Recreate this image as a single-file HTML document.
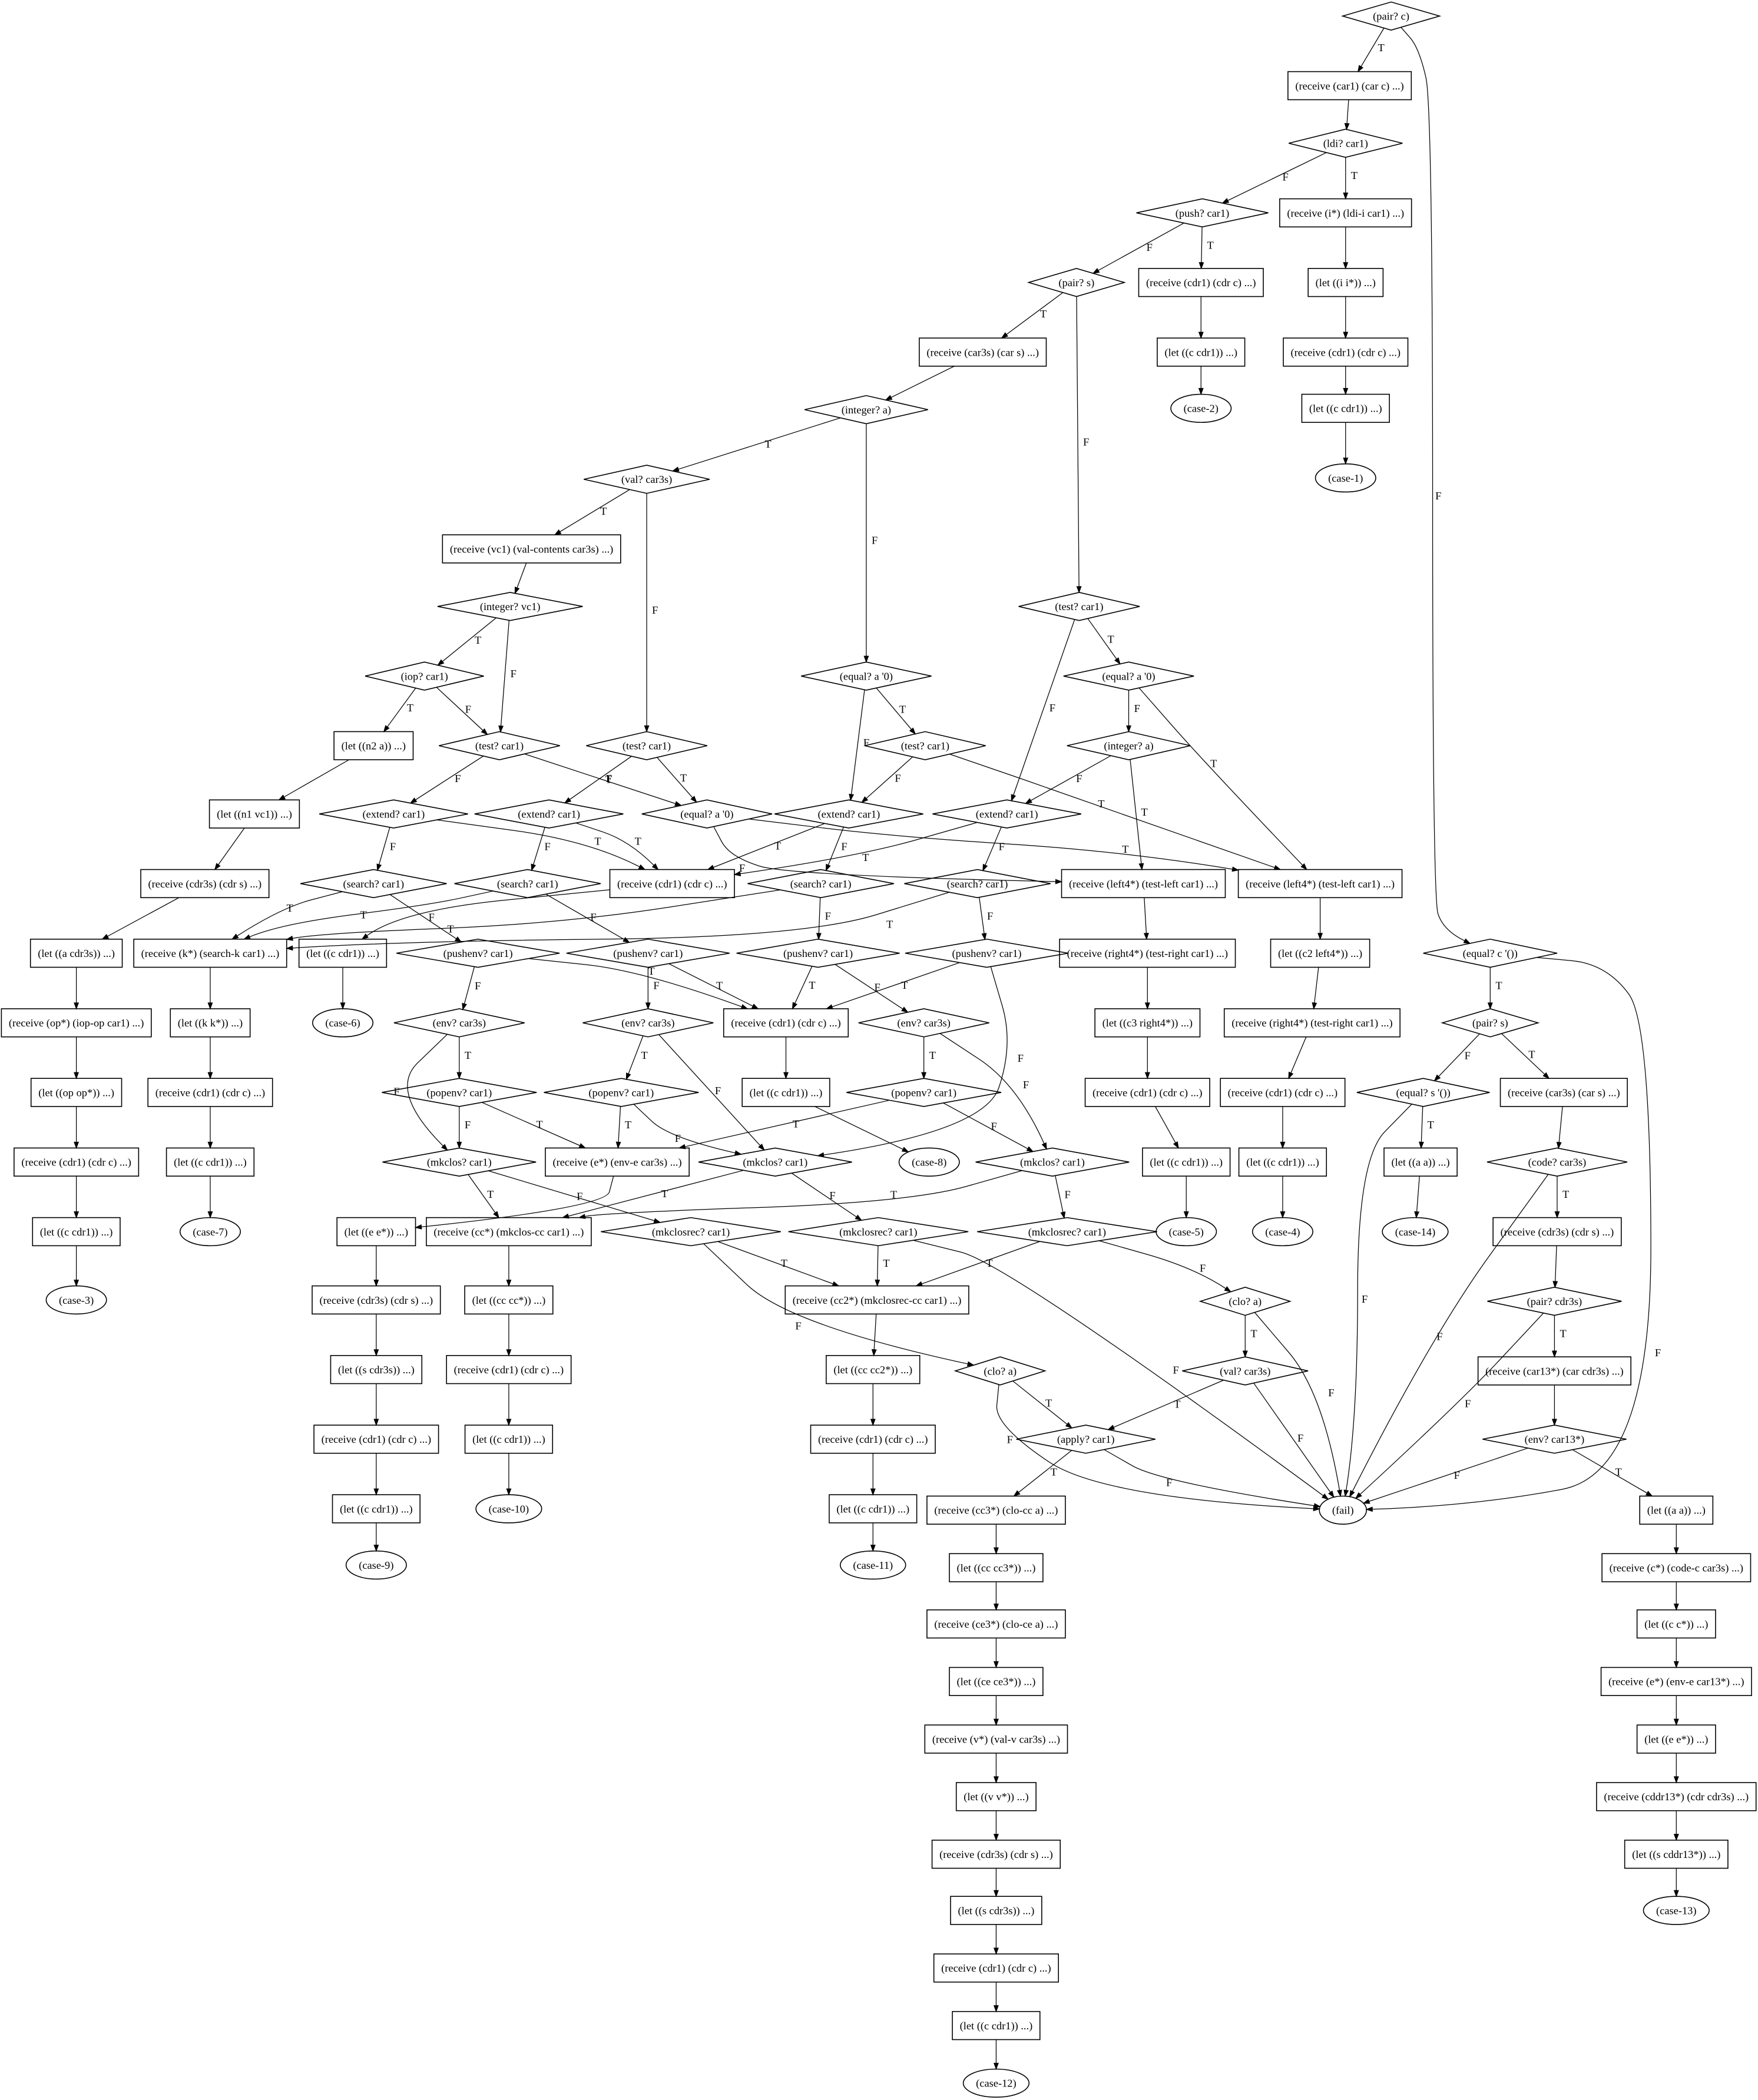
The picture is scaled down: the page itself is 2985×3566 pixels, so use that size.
<!DOCTYPE html>
<html><head><meta charset="utf-8">
<style>
html,body{margin:0;padding:0;background:#fff;}
svg{display:block;}
text{font-family:"Liberation Serif",serif;font-size:8.1px;fill:#000;}
</style></head>
<body>
<svg id="g" xmlns="http://www.w3.org/2000/svg" width="2985" height="3566" viewBox="0 0 1313 1568.6">
<rect x="0" y="0" width="1313" height="1568.6" fill="#fff"/>
<g id="edges"></g><g id="nodes"></g>
</svg>
<script>
var N={
1:['d',1039,12,'(pair? c)'],
2:['b',1008,64,'(receive (car1) (car c) ...)'],
3:['d',1005,107,'(ldi? car1)'],
4:['d',898,159,'(push? car1)'],
5:['b',1005,159,'(receive (i*) (ldi-i car1) ...)'],
6:['d',804,211,'(pair? s)'],
7:['b',897,211,'(receive (cdr1) (cdr c) ...)'],
8:['b',1005,211,'(let ((i i*)) ...)'],
9:['b',897,263,'(let ((c cdr1)) ...)'],
10:['b',1005,263,'(receive (cdr1) (cdr c) ...)'],
11:['e',897,305,'(case-2)'],
12:['b',1005,305,'(let ((c cdr1)) ...)'],
13:['e',1005,357,'(case-1)'],
14:['b',734,263,'(receive (car3s) (car s) ...)'],
15:['d',647,306,'(integer? a)'],
16:['d',483,358,'(val? car3s)'],
17:['b',397,410,'(receive (vc1) (val-contents car3s) ...)'],
18:['d',381,453,'(integer? vc1)'],
19:['d',806,453,'(test? car1)'],
20:['d',317,505,'(iop? car1)'],
21:['d',647,505,'(equal? a \'0)'],
22:['d',843,505,'(equal? a \'0)'],
23:['b',279,557,'(let ((n2 a)) ...)'],
24:['d',373,557,'(test? car1)'],
25:['d',483,557,'(test? car1)'],
26:['d',691,557,'(test? car1)'],
27:['d',843,557,'(integer? a)'],
28:['b',190,608,'(let ((n1 vc1)) ...)'],
29:['d',294,608,'(extend? car1)'],
30:['d',410,608,'(extend? car1)'],
31:['d',528,608,'(equal? a \'0)'],
32:['d',634,608,'(extend? car1)'],
33:['d',752,608,'(extend? car1)'],
34:['b',153,660,'(receive (cdr3s) (cdr s) ...)'],
35:['d',279,660,'(search? car1)'],
36:['d',394,660,'(search? car1)'],
37:['b',502,660,'(receive (cdr1) (cdr c) ...)'],
38:['d',613,660,'(search? car1)'],
39:['d',730,660,'(search? car1)'],
40:['b',854,660,'(receive (left4*) (test-left car1) ...)'],
41:['b',986,660,'(receive (left4*) (test-left car1) ...)'],
42:['b',57,712,'(let ((a cdr3s)) ...)'],
43:['b',157,712,'(receive (k*) (search-k car1) ...)'],
44:['b',256,712,'(let ((c cdr1)) ...)'],
45:['d',357,712,'(pushenv? car1)'],
46:['d',484,712,'(pushenv? car1)'],
47:['d',611,712,'(pushenv? car1)'],
48:['d',737,712,'(pushenv? car1)'],
49:['b',857,712,'(receive (right4*) (test-right car1) ...)'],
50:['b',986,712,'(let ((c2 left4*)) ...)'],
51:['d',1113,712,'(equal? c \'())'],
52:['b',57,764,'(receive (op*) (iop-op car1) ...)'],
53:['b',157,764,'(let ((k k*)) ...)'],
54:['e',256,764,'(case-6)'],
55:['d',343,764,'(env? car3s)'],
56:['d',484,764,'(env? car3s)'],
57:['b',587,764,'(receive (cdr1) (cdr c) ...)'],
58:['d',690,764,'(env? car3s)'],
59:['b',857,764,'(let ((c3 right4*)) ...)'],
60:['b',980,764,'(receive (right4*) (test-right car1) ...)'],
61:['d',1113,764,'(pair? s)'],
62:['b',57,816,'(let ((op op*)) ...)'],
63:['b',157,816,'(receive (cdr1) (cdr c) ...)'],
64:['d',343,816,'(popenv? car1)'],
65:['d',464,816,'(popenv? car1)'],
66:['b',587,816,'(let ((c cdr1)) ...)'],
67:['d',690,816,'(popenv? car1)'],
68:['b',857,816,'(receive (cdr1) (cdr c) ...)'],
69:['b',958,816,'(receive (cdr1) (cdr c) ...)'],
70:['d',1063,816,'(equal? s \'())'],
71:['b',1168,816,'(receive (car3s) (car s) ...)'],
72:['b',57,868,'(receive (cdr1) (cdr c) ...)'],
73:['b',157,868,'(let ((c cdr1)) ...)'],
74:['d',343,868,'(mkclos? car1)'],
75:['b',461,868,'(receive (e*) (env-e car3s) ...)'],
76:['d',579,868,'(mkclos? car1)'],
77:['e',694,868,'(case-8)'],
78:['d',786,868,'(mkclos? car1)'],
79:['b',886,868,'(let ((c cdr1)) ...)'],
80:['b',958,868,'(let ((c cdr1)) ...)'],
81:['b',1061,868,'(let ((a a)) ...)'],
82:['d',1163,868,'(code? car3s)'],
83:['b',57,920,'(let ((c cdr1)) ...)'],
84:['e',157,920,'(case-7)'],
85:['b',281,920,'(let ((e e*)) ...)'],
86:['b',380,920,'(receive (cc*) (mkclos-cc car1) ...)'],
87:['d',516,920,'(mkclosrec? car1)'],
88:['d',656,920,'(mkclosrec? car1)'],
89:['d',797,920,'(mkclosrec? car1)'],
90:['e',886,920,'(case-5)'],
91:['e',958,920,'(case-4)'],
92:['e',1057,920,'(case-14)'],
93:['b',1163,920,'(receive (cdr3s) (cdr s) ...)'],
94:['e',57,971,'(case-3)'],
95:['b',281,971,'(receive (cdr3s) (cdr s) ...)'],
96:['b',380,971,'(let ((cc cc*)) ...)'],
97:['b',655,971,'(receive (cc2*) (mkclosrec-cc car1) ...)'],
98:['d',930,972,'(clo? a)'],
99:['d',1161,972,'(pair? cdr3s)'],
100:['b',281,1023,'(let ((s cdr3s)) ...)'],
101:['b',380,1023,'(receive (cdr1) (cdr c) ...)'],
102:['b',652,1023,'(let ((cc cc2*)) ...)'],
103:['d',747,1024,'(clo? a)'],
104:['d',930,1024,'(val? car3s)'],
105:['b',1161,1024,'(receive (car13*) (car cdr3s) ...)'],
106:['b',281,1075,'(receive (cdr1) (cdr c) ...)'],
107:['b',380,1075,'(let ((c cdr1)) ...)'],
108:['b',652,1075,'(receive (cdr1) (cdr c) ...)'],
109:['d',811,1075,'(apply? car1)'],
110:['d',1161,1075,'(env? car13*)'],
111:['b',281,1127,'(let ((c cdr1)) ...)'],
112:['e',380,1127,'(case-10)'],
113:['b',652,1127,'(let ((c cdr1)) ...)'],
114:['e',1003,1128,'(fail)'],
115:['b',744,1128,'(receive (cc3*) (clo-cc a) ...)'],
116:['b',1252,1128,'(let ((a a)) ...)'],
117:['e',281,1169,'(case-9)'],
118:['e',652,1169,'(case-11)'],
119:['b',744,1171,'(let ((cc cc3*)) ...)'],
120:['b',1252,1171,'(receive (c*) (code-c car3s) ...)'],
121:['b',744,1213,'(receive (ce3*) (clo-ce a) ...)'],
122:['b',1252,1213,'(let ((c c*)) ...)'],
123:['b',744,1256,'(let ((ce ce3*)) ...)'],
124:['b',1252,1256,'(receive (e*) (env-e car13*) ...)'],
125:['b',744,1299,'(receive (v*) (val-v car3s) ...)'],
126:['b',1252,1299,'(let ((e e*)) ...)'],
127:['b',744,1342,'(let ((v v*)) ...)'],
128:['b',1252,1342,'(receive (cddr13*) (cdr cdr3s) ...)'],
129:['b',744,1385,'(receive (cdr3s) (cdr s) ...)'],
130:['b',1252,1385,'(let ((s cddr13*)) ...)'],
131:['b',744,1427,'(let ((s cdr3s)) ...)'],
132:['e',1252,1427,'(case-13)'],
133:['b',744,1470,'(receive (cdr1) (cdr c) ...)'],
134:['b',744,1513,'(let ((c cdr1)) ...)'],
135:['e',744,1556,'(case-12)']
};
// edges: [from,to,label,via,labelpos]
var E=[
[1,2,'T'],[1,51,'F',[[1060,36],[1070,80],[1070,670],[1078,695]],[1072,370]],
[2,3],[3,4,'F'],[3,5,'T'],[4,6,'F'],[4,7,'T'],
[5,8],[8,10],[10,12],[12,13],[7,9],[9,11],
[6,14,'T'],[6,19,'F'],[14,15],
[15,16,'T'],[15,21,'F'],[16,17,'T'],[16,25,'F'],[17,18],
[18,20,'T'],[18,24,'F'],[20,23,'T'],[20,24,'F'],
[23,28],[28,34],[34,42],[42,52],[52,62],[62,72],[72,83],[83,94],
[24,29,'F'],[24,31,'T'],[25,30,'F'],[25,31,'T'],
[19,22,'T'],[19,33,'F'],[21,26,'T'],[21,32,'F'],
[22,27,'F'],[22,41,'T',[[900,570]]],
[26,32,'F'],[26,41,'T',[[816,600]]],
[27,33,'F'],[27,40,'T'],
[29,35,'F'],[29,37,'T',[[440,628]]],
[30,36,'F'],[30,37,'T',[[470,628]]],
[31,40,'F',[[545,640],[590,654]],[552,648]],[31,41,'T',[[669,625],[840,636]],[838,634]],
[32,37,'T'],[32,38,'F'],
[33,37,'T',[[640,640]]],[33,39,'F'],
[35,43,'T',[[210,678]]],[36,43,'T',[[320,676],[210,690]]],
[38,43,'T',[[420,690],[240,697]]],[39,43,'T',[[600,700],[300,703]],[662,690]],
[35,45,'F'],[36,46,'F'],[38,47,'F'],[39,48,'F'],
[37,44,null,[[300,680]]],[44,54],
[40,49],[49,59],[59,68],[68,79],[79,90],
[41,50],[50,60],[60,69],[69,80],[80,91],
[43,53],[53,63],[63,73],[73,84],
[45,55,'F'],[45,57,'T',[[480,725]]],[46,56,'F'],[46,57,'T'],
[47,57,'T'],[47,58,'F'],[48,57,'T'],[48,76,'F',[[757,780],[735,845]],[760,790]],
[55,64,'T'],[55,74,'F',[[290,815]]],[56,65,'T'],[56,76,'F'],
[57,66],[66,77],[58,67,'T'],[58,78,'F',[[760,810]]],
[64,74,'F'],[64,75,'T'],[65,75,'T'],[65,76,'F',[[500,850]]],
[67,75,'T'],[67,78,'F'],
[74,86,'T'],[74,87,'F'],[76,86,'T'],[76,88,'F'],
[78,86,'T',[[680,898],[450,906]],[665,892]],[78,89,'F'],
[75,85,null,[[452,902]]],
[85,95],[95,100],[100,106],[106,111],[111,117],
[86,96],[96,101],[101,107],[107,112],
[87,97,'T'],[87,103,'F',[[590,990]]],
[88,97,'T'],[88,114,'F',[[753,944]],[876,1023]],
[89,97,'T'],[89,98,'F',[[892,947]]],
[97,102],[102,108],[108,113],[113,118],
[98,104,'T'],[98,114,'F',[[988,1040]]],
[104,109,'T'],[104,114,'F'],
[103,109,'T'],[103,114,'F',[[743,1065],[824,1119]],[752,1075]],
[109,115,'T'],[109,114,'F',[[867,1107]]],
[115,119],[119,121],[121,123],[123,125],[125,127],[127,129],[129,131],[131,133],[133,134],[134,135],
[51,61,'T'],[51,114,'F',[[1200,720],[1233,765],[1233,1100],[1100,1125]],[1236,1010]],
[61,70,'F'],[61,71,'T'],
[70,81,'T'],[70,114,'F',[[1014,866],[1014,1060]],[1017,970]],
[81,92],[71,82],
[82,93,'T'],[82,114,'F',[[1069,998]]],
[93,99],[99,105,'T'],[99,114,'F',[[1090,1048]]],
[105,110],[110,114,'F'],[110,116,'T'],
[116,120],[120,122],[122,124],[124,126],[126,128],[128,130],[130,132]
];
var NS='http://www.w3.org/2000/svg';
var gn=document.getElementById('nodes'),ge=document.getElementById('edges');
function el(t,a,p){var e=document.createElementNS(NS,t);for(var k in a)e.setAttribute(k,a[k]);p.appendChild(e);return e;}
var H=21,G={};
for(var id in N){
 var n=N[id],t=el('text',{x:n[1],y:n[2]+2.8,'text-anchor':'middle'},gn);t.textContent=n[3];
 var L=t.getComputedTextLength(),w,h=H;
 if(n[0]=='b'){w=L+11;el('rect',{x:n[1]-w/2,y:n[2]-h/2,width:w,height:h,fill:'none',stroke:'#000','stroke-width':0.7},gn);}
 else if(n[0]=='d'){w=2*L+18;el('polygon',{points:[n[1]-w/2,n[2],n[1],n[2]-h/2,n[1]+w/2,n[2],n[1],n[2]+h/2].join(' '),fill:'none',stroke:'#000','stroke-width':0.7},gn);}
 else {w=L+19;el('ellipse',{cx:n[1],cy:n[2],rx:w/2,ry:h/2,fill:'none',stroke:'#000','stroke-width':0.7},gn);}
 G[id]={t:n[0],x:n[1],y:n[2],hw:w/2,hh:h/2};
}
function clip(n,px,py){var dx=px-n.x,dy=py-n.y,t;
 if(n.t=='b')t=Math.min(Math.abs(dx)>1e-6?n.hw/Math.abs(dx):1e9,Math.abs(dy)>1e-6?n.hh/Math.abs(dy):1e9);
 else if(n.t=='d')t=1/(Math.abs(dx)/n.hw+Math.abs(dy)/n.hh);
 else t=1/Math.sqrt((dx/n.hw)*(dx/n.hw)+(dy/n.hh)*(dy/n.hh));
 return [n.x+dx*t,n.y+dy*t];}
E.forEach(function(e){
 var a=G[e[0]],b=G[e[1]],via=e[3]||[];
 var f=via.length?via[0]:[b.x,b.y],l=via.length?via[via.length-1]:[a.x,a.y];
 var s=clip(a,f[0],f[1]),en=clip(b,l[0],l[1]);
 var dx=en[0]-l[0],dy=en[1]-l[1],d=Math.hypot(dx,dy),ux=dx/d,uy=dy/d,AL=4.4;
 var tip=en,base=[en[0]-ux*AL,en[1]-uy*AL];
 var pts=[s].concat(via).concat([base]);
 var dstr='M'+pts[0][0]+' '+pts[0][1];
 if(pts.length==2)dstr+=' L'+pts[1][0]+' '+pts[1][1];
 else{
  var m0=[(pts[0][0]+pts[1][0])/2,(pts[0][1]+pts[1][1])/2];
  dstr+=' L'+m0[0]+' '+m0[1];
  for(var i=1;i<pts.length-1;i++){
   var nx=(i+1==pts.length-1)?pts[i+1]:[(pts[i][0]+pts[i+1][0])/2,(pts[i][1]+pts[i+1][1])/2];
   dstr+=' Q'+pts[i][0]+' '+pts[i][1]+' '+nx[0]+' '+nx[1];
  }
 }
 el('path',{d:dstr,fill:'none',stroke:'#000','stroke-width':0.55},ge);
 el('polygon',{points:[tip[0],tip[1],base[0]-uy*1.6,base[1]+ux*1.6,base[0]+uy*1.6,base[1]-ux*1.6].join(' '),fill:'#000',stroke:'#000','stroke-width':0.5},ge);
 if(typeof e[2]=='string'){
  var m;
  if(e[4])m=[e[4][0]-4,e[4][1]];
  else if(pts.length==2)m=[(s[0]+base[0])/2,(s[1]+base[1])/2];
  else if(pts.length%2==1)m=pts[(pts.length-1)/2];
  else {var k=pts.length/2;m=[(pts[k-1][0]+pts[k][0])/2,(pts[k-1][1]+pts[k][1])/2];}
  var tx=el('text',{x:m[0]+4,y:m[1]+3},ge);tx.textContent=e[2];}
});
</script>
</body></html>
